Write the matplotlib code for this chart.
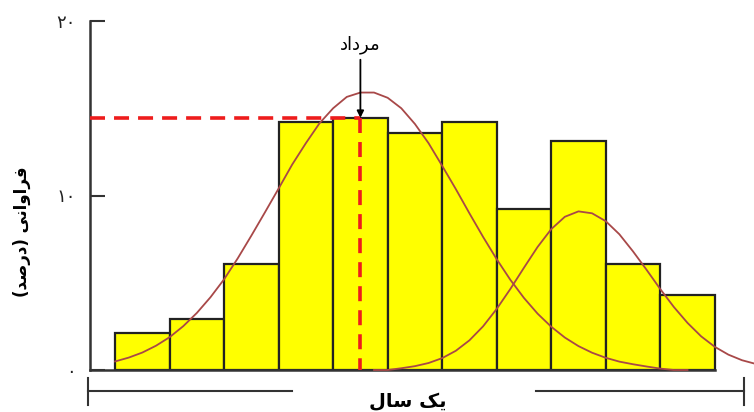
import numpy as np
import matplotlib
matplotlib.use("Agg")
import matplotlib.pyplot as plt

plt.rcParams['font.family'] = ['DejaVu Sans']
plt.rcParams['lines.scale_dashes'] = False

# histogram: 11 equal classes, frequency in percent
bin_edges = np.arange(0, 12)
freq = [2.1, 2.9, 6.1, 14.2, 14.45, 13.6, 14.2, 9.2, 13.1, 6.1, 4.3]
mode_bin = 4

# two fitted curves (x in class units)
c1_x = np.arange(0, 10.75, 0.25)
c1_y = [0.49, 0.71, 1.0, 1.39, 1.88, 2.51, 3.27, 4.17, 5.2, 6.4, 7.7, 9.04,
        10.4, 11.78, 13.0, 14.14, 15.0, 15.65, 15.9, 15.9, 15.6, 15.0,
        14.1, 13.0, 11.7, 10.37, 8.98, 7.63, 6.35, 5.17, 4.13, 3.23, 2.48,
        1.86, 1.37, 0.99, 0.7, 0.48, 0.33, 0.2, 0.08, 0.0, 0.0]
c2_x = np.arange(4.75, 12.0, 0.25)
c2_y = [0.0, 0.0, 0.1, 0.22, 0.4, 0.68, 1.1, 1.7, 2.5, 3.5, 4.64, 5.86, 7.05,
        8.07, 8.78, 9.09, 8.98, 8.53, 7.78, 6.8, 5.74, 4.64, 3.61, 2.7, 1.93,
        1.33, 0.88, 0.56, 0.35]

yticks = [0, 10, 20]
ytick_labels = ['۰', '۱۰', '۲۰']

# Persian labels in visual (presentation) form
lbl_month = '\uFEA9\uFE8D\uFEA9\uFEAE\uFEE3'          # مرداد
lbl_year = '\uFEDD\uFE8E\uFEB3 \uFB8F\uFBFE'          # یک سال
lbl_y = '(\uFEAA\uFEBB\uFEAD\uFEA9) \uFBFD\uFEE7\uFE8D\uFEED\uFE8D\uFEAE\uFED3'  # فراوانی (درصد)

fig = plt.figure(figsize=(7.54, 4.12), dpi=100)
ax = fig.add_axes([90/754, 42/412, 664/754, 349/412])

widths = np.diff(bin_edges)
ax.bar(bin_edges[:-1], freq, width=widths, align='edge', color='#ffff00',
       edgecolor='#222222', linewidth=1.6, zorder=2)

ax.plot(c1_x, c1_y, color='#a84848', lw=1.3, zorder=3, clip_on=False)
ax.plot(c2_x, c2_y, color='#a84848', lw=1.3, zorder=3, clip_on=False)

ax.set_xlim(-0.46, 11.72)
ax.set_ylim(0, 20)

# mode marker
xm = bin_edges[mode_bin] + 0.5
ym = freq[mode_bin]
ax.plot([-0.46, xm], [ym, ym], color='#ee1c1c', lw=2.6, dashes=(10.8, 6.5), zorder=4, clip_on=False)
ax.plot([xm, xm], [ym, 0], color='#ee1c1c', lw=2.6, dashes=(10.8, 6.5), zorder=4)
ax.annotate(lbl_month, xy=(xm, ym), xytext=(xm, 18.1), ha='center', va='bottom',
            fontsize=13, arrowprops=dict(arrowstyle='-|>', color='black', lw=1.3,
                                         mutation_scale=10, shrinkA=2, shrinkB=0))

for s in ['top', 'right']:
    ax.spines[s].set_visible(False)
ax.spines['left'].set_linewidth(1.8)
ax.spines['left'].set_color('#333333')
ax.spines['bottom'].set_linewidth(1.8)
ax.spines['bottom'].set_color('#333333')
ax.spines['bottom'].set_bounds(-0.46, 11)

ax.set_xticks([])
ax.set_yticks(yticks)
ax.set_yticklabels(ytick_labels, fontsize=13, color='#222222')
ax.tick_params(axis='y', direction='in', length=11, width=1.5, color='#333333', pad=10)

# one-year bracket under the axis
br = dict(color='#333333', lw=1.5, clip_on=False)
ax.plot([-0.5, 3.25], [-1.2, -1.2], **br)
ax.plot([7.72, 11.54], [-1.2, -1.2], **br)
ax.plot([-0.5, -0.5], [-0.45, -2.0], **br)
ax.plot([11.54, 11.54], [-0.45, -2.0], **br)
ax.text(5.36, -1.8, lbl_year, ha='center', va='center', fontsize=14, fontweight='bold')

fig.text(22/754, 1 - 232/412, lbl_y, rotation=90, ha='center', va='center',
         fontsize=12, fontweight='bold')

fig.savefig('out.png', dpi=100)
